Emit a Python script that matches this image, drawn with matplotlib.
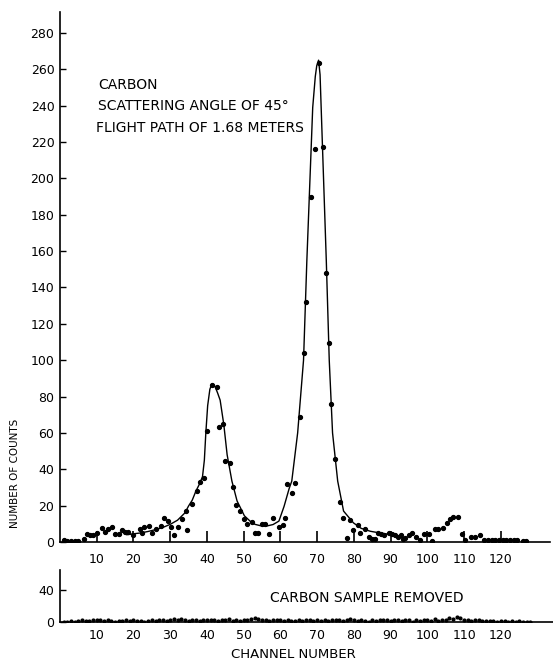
import matplotlib
matplotlib.use("Agg")
import matplotlib.pyplot as plt

plt.rcParams['font.family'] = ['DejaVu Sans']

# ---- main panel: measured counts (channel, counts) ----
main_channels = [1, 2, 3, 4, 5, 6.4, 7.3, 8.2, 9.1, 10.2, 11.4, 12.3, 13.2, 14.2, 15.1, 16.0,
                 16.8, 17.7, 18.5, 19.9, 21.8, 22.2, 23.0, 24.3, 25.0, 26.2, 27.4, 28.4, 29.3,
                 30.2, 31.1, 32.2, 33.2, 34.2, 34.7, 36.0, 37.2, 38.1, 39.3, 40.1, 41.3, 42.7,
                 43.3, 44.3, 45.0, 46.4, 47.0, 48.0, 48.9, 50.0, 51.0, 52.2, 53.1, 54.0, 55.0,
                 55.9, 56.8, 58.0, 59.5, 60.7, 61.3, 61.8, 63.1, 64.0, 65.3, 66.5, 67.0, 68.3,
                 69.5, 70.4, 71.6, 72.4, 73.2, 73.9, 74.9, 76.1, 77.0, 78.0, 79.0, 79.8, 81.0,
                 81.8, 82.9, 84.0, 85.0, 85.7, 86.5, 87.4, 88.3, 89.5, 90.4, 91.1, 91.9, 92.8,
                 93.3, 94.0, 94.9, 95.7, 96.8, 98.0, 99.0, 100.4, 101.4, 102.0, 103.0, 104.2,
                 105.3, 106.2, 107.1, 108.3, 109.4, 110.3, 111.9, 113.0, 114.4, 115.5, 116.5,
                 117.5, 118.5, 119.5, 120.5, 121.5, 122.5, 123.5, 124.5, 126, 127]
main_counts = [1, 0.5, 0.5, 0.5, 0.5, 1.5, 4.6, 3.9, 3.9, 5, 7.7, 5.7, 7, 8, 4.5, 4.2,
               6.5, 5.7, 5.7, 3.6, 7, 5, 8, 9, 5, 7, 9, 13, 11.7,
               8, 3.7, 8, 12.6, 16.8, 6.5, 21, 28, 33, 35.4, 61, 86.3, 85,
               63, 64.7, 44.5, 43.3, 30, 20.5, 17, 12.5, 10, 11, 5, 5, 10,
               10, 4.4, 13, 8.4, 9.4, 13, 31.7, 27, 32.6, 68.7, 103.7, 132, 190,
               216, 263.6, 217.3, 148, 109.6, 75.7, 45.5, 22, 13.4, 2.4, 12, 6.6, 9.5,
               5, 7, 3, 1.8, 1.4, 5, 4.2, 4, 5, 4.5, 4, 3, 4,
               1.5, 2, 4, 5, 2.5, 1, 4.4, 4.4, 0.5, 7, 7, 7.7,
               10.5, 12.5, 13.5, 13.5, 4.6, 1.3, 3, 2.5, 4, 1, 1,
               1, 1, 1, 1, 1, 1, 1, 1, 0.5, 0.5]

# ---- fitted curve ----
curve_channels = [18.2, 20, 22, 24, 26, 28, 30, 32, 34, 35, 36, 37, 38, 38.8, 39.3, 39.7,
                  40.2, 40.8, 41.3, 41.8, 42.2, 42.9, 43.6, 44.6, 45.5, 46.8, 48.2, 50.2, 52,
                  53.1, 54.5, 56.3, 58, 59.6, 61, 62.4, 63.1, 64.7, 66.3, 67.2, 68.8, 69.5,
                  69.9, 70.4, 70.8, 71.1, 72.5, 73.3, 74.2, 75.6, 77.2, 79.9, 82, 84.5, 87,
                  89, 90.5]
curve_counts = [4, 4.5, 5, 5.8, 6.8, 8, 9.7, 12, 16, 19.8, 23, 28, 32, 36, 45, 60,
                75, 84, 86.7, 86.5, 85.5, 82, 78, 64.5, 48, 33.5, 22.6, 14.4, 11,
                9.7, 9, 8.8, 9.6, 11.5, 19.6, 29.5, 33.5, 60, 100, 154.6, 239, 256,
                262, 265, 257, 239, 154.6, 100, 60, 33.5, 17, 10.5, 7.5, 5.9, 5,
                4.4, 4.2]

main_yticks = list(range(0, 281, 20))
xticks = list(range(10, 121, 10))

# ---- lower panel: sample removed ----
bg_channels = list(range(1, 129))
bg_counts = [0, 0, 1, 0, 1, 2, 1, 1, 2, 3,
             2, 1, 2, 1, 0, 1, 1, 2, 1, 3,
             1, 1, 0, 1, 2, 1, 2, 3, 1, 2,
             4, 3, 4, 2, 1, 2, 3, 1, 2, 3,
             2, 3, 1, 3, 2, 4, 1, 2, 1, 3,
             2, 4, 5, 4, 3, 2, 1, 2, 3, 2,
             1, 2, 1, 1, 2, 1, 2, 3, 1, 2,
             1, 3, 1, 2, 2, 3, 1, 3, 4, 2,
             1, 2, 1, 0, 2, 1, 3, 2, 3, 1,
             3, 2, 1, 3, 2, 0, 3, 1, 2, 3,
             1, 4, 1, 2, 3, 5, 4, 6, 5, 2,
             3, 1, 2, 3, 1, 1, 1, 1, 0, 1,
             1, 0, 1, 0, 1, 0, 0, 0]
bg_yticks = [0, 40]

W, H = 553, 659
fig = plt.figure(figsize=(W / 100, H / 100), dpi=100)

ax = fig.add_axes([60 / W, 1 - 542 / H, 490 / W, 530 / H])
ax.plot(curve_channels, curve_counts, color='black', lw=1.0)
ax.plot(main_channels, main_counts, 'o', color='black', ms=2.8, mec='black')
ax.set_xlim(0, 133.4)
ax.set_ylim(0, 291.5)
ax.set_xticks(xticks)
ax.set_xticklabels([str(t) for t in xticks])
ax.set_yticks(main_yticks)
ax.set_yticklabels([str(t) for t in main_yticks])
for s in ('top', 'right'):
    ax.spines[s].set_visible(False)
for s in ('left', 'bottom'):
    ax.spines[s].set_linewidth(1.2)
ax.tick_params(axis='x', direction='in', length=8, width=1.2, pad=8, labelsize=9)
ax.tick_params(axis='y', direction='in', length=4, width=1.0, pad=4, labelsize=9)

txt_fs = 10
ax.text((98 - 60) / 3.673, (542 - 85) / 1.817, 'CARBON', fontsize=txt_fs,
        va='center', ha='left')
ax.text((98 - 60) / 3.673, (542 - 106) / 1.817, 'SCATTERING ANGLE OF 45°', fontsize=txt_fs,
        va='center', ha='left')
ax.text((96 - 60) / 3.673, (542 - 128) / 1.817, 'FLIGHT PATH OF 1.68 METERS', fontsize=txt_fs,
        va='center', ha='left')

fig.text(15 / W, 1 - 473 / H, 'NUMBER OF COUNTS', rotation=90, ha='center', va='center',
         fontsize=7.5)

ax2 = fig.add_axes([60 / W, 1 - 622 / H, 493 / W, 52 / H])
ax2.plot(bg_channels, bg_counts, 'o', color='black', ms=2.0)
ax2.set_xlim(0, 134.2)
ax2.set_ylim(0, 65)
ax2.set_xticks(xticks)
ax2.set_xticklabels([str(t) for t in xticks])
ax2.set_yticks(bg_yticks)
ax2.set_yticklabels([str(t) for t in bg_yticks])
for s in ('top', 'right'):
    ax2.spines[s].set_visible(False)
for s in ('left', 'bottom'):
    ax2.spines[s].set_linewidth(1.2)
ax2.tick_params(axis='x', direction='in', length=0, pad=5, labelsize=9)
ax2.tick_params(axis='y', direction='in', length=4, width=1.0, pad=4, labelsize=9)
ax2.text(57.2, 30, 'CARBON SAMPLE REMOVED', fontsize=10, va='center', ha='left')

fig.text(293 / W, 1 - 654 / H, 'CHANNEL NUMBER', ha='center', va='center', fontsize=9.5)

fig.savefig('out.png', dpi=100)
